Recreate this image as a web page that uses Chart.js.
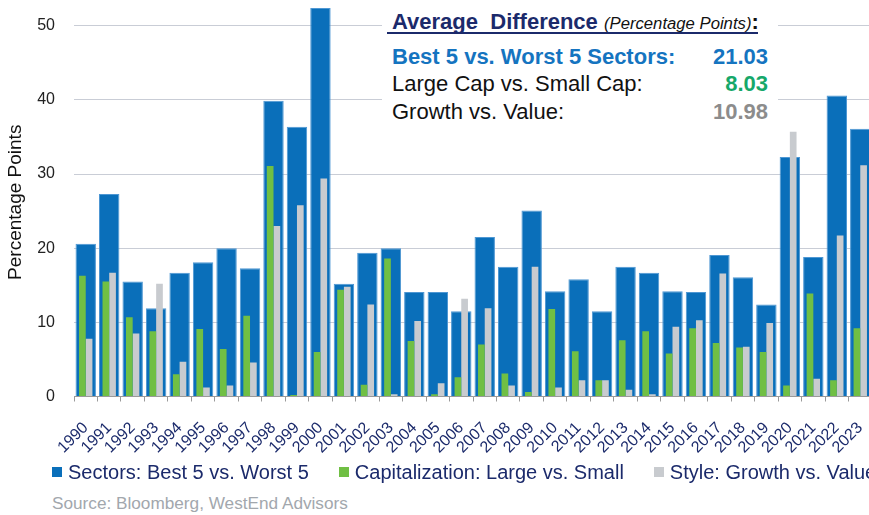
<!DOCTYPE html>
<html>
<head>
<meta charset="utf-8">
<script src="https://cdn.jsdelivr.net/npm/chart.js@4.4.1/dist/chart.umd.min.js"></script>
<style>
  body { margin: 0; width: 869px; height: 515px; overflow: hidden; background: #fff; font-family: "Liberation Sans", Arial, sans-serif; position: relative; }
  #wrap { position: absolute; left: 0; top: 0; width: 872px; height: 470px; }
  .box { position: absolute; left: 382px; top: 0; width: 396px; height: 126px; background: #fff; }
  .head { position: absolute; left: 5px; top: 9px; width: 371px; height: 25px; padding-left: 5px; box-sizing: border-box; border-bottom: 2px solid #1b2a6b; white-space: nowrap; color: #1b2a6b; font-weight: bold; font-size: 22px; line-height: 25px; }
  .head i { font-weight: normal; font-size: 16.7px; color: #111; }
  .head b { color: #111; }
  .row { position: absolute; left: 10px; width: 376px; font-size: 22px; line-height: 26px; white-space: nowrap; color: #111; }
  .row span { position: absolute; right: 0; top: 0; font-weight: bold; }
  .legend { position: absolute; left: 52px; top: 461px; height: 22px; display: flex; align-items: center; white-space: nowrap; font-size: 20px; color: #1b2a6b; }
  .legend .sw { display: inline-block; width: 10px; height: 10px; margin-right: 6px; }
  .legend .item { display: flex; align-items: center; margin-right: 30px; }
  .source { position: absolute; left: 52px; top: 493px; font-size: 17.2px; color: #a2a7ad; white-space: nowrap; }
</style>
</head>
<body>
<div id="wrap"><canvas id="grafico"></canvas></div>

<div class="box">
  <div class="head">Average&nbsp; Difference <i>(Percentage Points)</i><b>:</b></div>
  <div class="row" style="top:44px;color:#1574c0;font-weight:bold;">Best 5 vs. Worst 5 Sectors:<span style="color:#1574c0">21.03</span></div>
  <div class="row" style="top:71px;">Large Cap vs. Small Cap:<span style="color:#16a86a">8.03</span></div>
  <div class="row" style="top:99px;">Growth vs. Value:<span style="color:#8c8c8c">10.98</span></div>
</div>

<div class="legend">
  <div class="item"><span class="sw" style="background:#0a6fba"></span>Sectors: Best 5 vs. Worst 5</div>
  <div class="item"><span class="sw" style="background:#70bf44"></span>Capitalization: Large vs. Small</div>
  <div class="item"><span class="sw" style="background:#c8cbcf"></span>Style: Growth vs. Value</div>
</div>
<div class="source">Source: Bloomberg, WestEnd Advisors</div>

<script>
const anni = [
  "1990", "1991", "1992", "1993", "1994", "1995", "1996", "1997", "1998", "1999",
  "2000", "2001", "2002", "2003", "2004", "2005", "2006", "2007", "2008", "2009",
  "2010", "2011", "2012", "2013", "2014", "2015", "2016", "2017", "2018", "2019",
  "2020", "2021", "2022", "2023",
];

// Sectors: Best 5 vs. Worst 5
const settori = [
  20.6, 27.3, 15.5, 11.9, 16.7, 18.1, 20.0, 17.3, 39.9, 36.4,
  52.4, 15.2, 19.4, 20.0, 14.1, 14.1, 11.5, 21.5, 17.5, 25.1,
  14.2, 15.8, 11.5, 17.5, 16.7, 14.2, 14.1, 19.1, 16.1, 12.4,
  32.3, 18.8, 40.6, 36.1,
];

// Capitalization: Large vs. Small
const capitalizzazione = [
  16.3, 15.5, 10.7, 8.8, 3.0, 9.1, 6.4, 10.9, 31.1, 0.2,
  6.0, 14.4, 1.6, 18.6, 7.5, 0.3, 2.6, 7.0, 3.1, 0.6,
  11.8, 6.1, 2.2, 7.6, 8.8, 5.8, 9.2, 7.2, 6.6, 6.0,
  1.5, 13.9, 2.2, 9.2,
];

// Style: Growth vs. Value
const stile = [
  7.8, 16.7, 8.5, 15.2, 4.7, 1.2, 1.5, 4.6, 23.0, 25.8,
  29.4, 14.8, 12.4, 0.3, 10.2, 1.8, 13.2, 11.9, 1.5, 17.5,
  1.2, 2.2, 2.2, 0.9, 0.3, 9.4, 10.3, 16.6, 6.7, 9.9,
  35.7, 2.4, 21.7, 31.2,
];

const tickY = [0, 10, 20, 30, 40, 50];

const font = "'Liberation Sans', Arial, sans-serif";

const dati = {
  labels: anni,
  datasets: [
    {
      label: "Sectors: Best 5 vs. Worst 5",
      data: settori,
      backgroundColor: "#0a6fba",
      borderColor: "#4e97d3",
      borderWidth: 1,
      order: 1,
      grouped: false,
      categoryPercentage: 1,
      barPercentage: 0.87,
    },
    {
      label: "Capitalization: Large vs. Small",
      data: capitalizzazione,
      backgroundColor: "#70bf44",
      order: 0,
      categoryPercentage: 0.57,
      barPercentage: 1,
    },
    {
      label: "Style: Growth vs. Value",
      data: stile,
      backgroundColor: "#c8cbcf",
      order: 0,
      categoryPercentage: 0.57,
      barPercentage: 1,
    },
  ],
};

const config = {
  type: "bar",
  data: dati,
  options: {
    responsive: true,
    maintainAspectRatio: false,
    animation: false,
    layout: { padding: { top: 8, right: 0, left: 0, bottom: 0 } },
    plugins: {
      legend: { display: false },
      tooltip: { enabled: false },
    },
    scales: {
      x: {
        offset: true,
        grid: { offset: true, drawOnChartArea: false, tickLength: 5, color: "#9a9a9a" },
        border: { color: "#9a9a9a" },
        ticks: {
          autoSkip: false,
          maxRotation: 45,
          minRotation: 45,
          padding: 17,
          color: "#1b2a6b",
          font: { family: font, size: 16 },
        },
        afterFit: (axis) => {
          axis.height = 73.5;
          axis.paddingLeft = 0;
          axis.paddingRight = 0;
        },
      },
      y: {
        min: 0,
        max: 52.4,
        afterBuildTicks: (axis) => {
          axis.ticks = tickY.map((v) => ({ value: v }));
        },
        afterFit: (axis) => {
          axis.width = 74;
          axis.paddingTop = 0;
          axis.paddingBottom = 0;
        },
        grid: { color: "#c9cdd6", drawTicks: false },
        border: { display: false },
        ticks: {
          padding: 19,
          color: "#222",
          font: { family: font, size: 16 },
        },
        title: {
          display: true,
          text: "Percentage Points",
          color: "#111",
          padding: { top: 4, bottom: 0 },
          font: { family: font, size: 19 },
        },
      },
    },
  },
};

const myChart = new Chart(document.getElementById("grafico").getContext("2d"), config);
</script>
</body>
</html>
